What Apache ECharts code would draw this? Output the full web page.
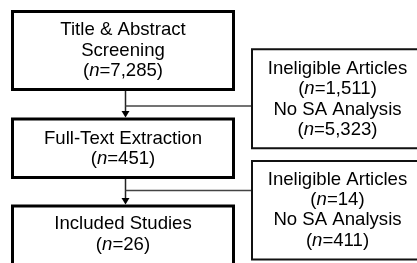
<!DOCTYPE html>
<html>
<head>
<meta charset="utf-8">
<script src="https://cdn.jsdelivr.net/npm/echarts@6/dist/echarts.min.js"></script>
<style>html,body{margin:0;padding:0;background:#fff;}#c{width:417px;height:263px;}</style>
</head>
<body>
<div id="c"></div>
<script>
// ---- data ----
const stepLabels = ['Title & Abstract\nScreening', 'Full-Text Extraction', 'Included Studies'];
const stepCounts = ['7,285', '451', '26'];
const exclusionLabels = ['Ineligible Articles', 'No SA Analysis'];
const exclusionCounts = [['1,511', '5,323'], ['14', '411']];

// ---- layout ----
const FONT = '"Liberation Sans", Arial, sans-serif';
const FS = 18.6, LH = 20.4;
const mainBoxes = [
  {x: 12.5, y: 11.5, w: 221, h: 78, ty: 50.5},
  {x: 12.5, y: 119, w: 221, h: 58.5, ty: 149},
  {x: 12.5, y: 206, w: 221, h: 70, ty: 234.5}
];
const sideBoxes = [
  {x: 252, y: 49.3, w: 200, h: 99, ty: 99.5, cx: 337.5},
  {x: 252, y: 161, w: 200, h: 98.5, ty: 210, cx: 337.5}
];
const connX = 125.5;
const connY = [106, 190.5];

function countLine(v) { return '({i|n}=' + v + ')'; }
const rich = {
  i: {fontStyle: 'italic', fontSize: FS, fontFamily: FONT, lineHeight: LH, fill: '#000'}
};

const g = [];
mainBoxes.forEach((b, k) => {
  g.push({type: 'rect', shape: {x: b.x, y: b.y, width: b.w, height: b.h},
    style: {fill: '#fff', stroke: '#000', lineWidth: 3}, z: 2});
  g.push({type: 'text', z: 3, style: {
    text: stepLabels[k] + '\n' + countLine(stepCounts[k]),
    x: b.x + b.w / 2, y: b.ty, align: 'center', verticalAlign: 'middle',
    fontSize: FS, fontFamily: FONT, lineHeight: LH, fill: '#000', rich: rich}});
});
sideBoxes.forEach((b, k) => {
  g.push({type: 'rect', shape: {x: b.x, y: b.y, width: b.w, height: b.h},
    style: {fill: '#fff', stroke: '#111', lineWidth: 2}, z: 2});
  const lines = [];
  exclusionLabels.forEach((l, j) => { lines.push(l); lines.push(countLine(exclusionCounts[k][j])); });
  g.push({type: 'text', z: 3, style: {
    text: lines.join('\n'),
    x: b.cx, y: b.ty, align: 'center', verticalAlign: 'middle',
    fontSize: FS, fontFamily: FONT, lineHeight: LH, fill: '#000', rich: rich}});
});
// connectors
for (let k = 0; k < 2; k++) {
  const top = mainBoxes[k].y + mainBoxes[k].h;
  const bot = mainBoxes[k + 1].y - 1.5;
  g.push({type: 'line', z: 1, shape: {x1: connX, y1: top, x2: connX, y2: bot - 5},
    style: {stroke: '#222', lineWidth: 1.5}});
  g.push({type: 'polygon', z: 4, shape: {points: [[connX - 4, bot - 6.5], [connX + 4, bot - 6.5], [connX, bot]]},
    style: {fill: '#000'}});
  g.push({type: 'line', z: 1, shape: {x1: connX, y1: connY[k], x2: sideBoxes[k].x, y2: connY[k]},
    style: {stroke: '#444', lineWidth: 1.3}});
}

const chart = echarts.init(document.getElementById('c'), null, {renderer: 'canvas'});
chart.setOption({animation: false, backgroundColor: '#fff', graphic: {elements: g}});
</script>
</body>
</html>
